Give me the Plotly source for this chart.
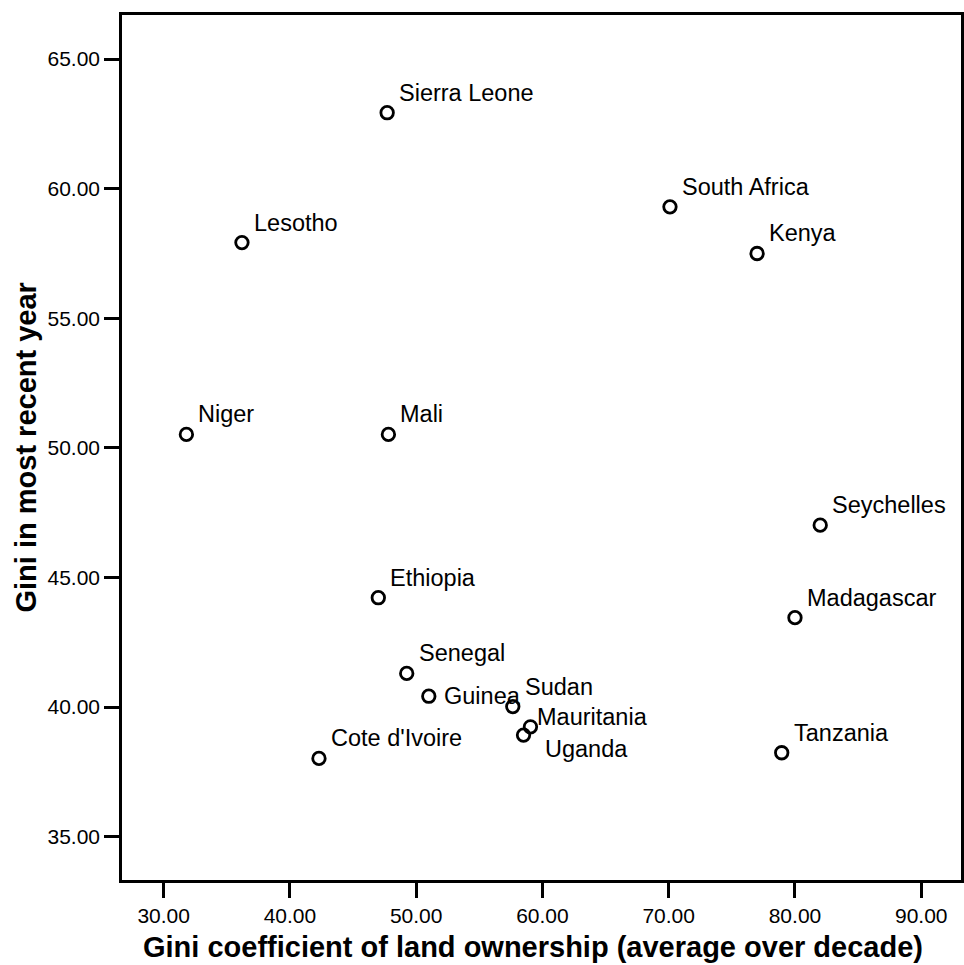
import plotly.graph_objects as go

countries = ["Sierra Leone", "South Africa", "Kenya", "Lesotho", "Niger", "Mali",
             "Seychelles", "Madagascar", "Ethiopia", "Senegal", "Guinea", "Sudan",
             "Mauritania", "Uganda", "Cote d'Ivoire", "Tanzania"]
land_gini = [47.7, 70.1, 77.0, 36.2, 31.8, 47.8,
             82.0, 80.0, 47.0, 49.25, 51.0, 57.65,
             59.05, 58.5, 42.3, 78.95]
income_gini = [62.93, 59.30, 57.50, 57.92, 50.52, 50.52,
               47.02, 43.45, 44.22, 41.30, 40.42, 40.02,
               39.24, 38.92, 38.02, 38.24]

x_ticks = [30, 40, 50, 60, 70, 80, 90]
y_ticks = [35, 40, 45, 50, 55, 60, 65]

# label placement offsets (pixels): default upper-right of marker
default_offset = (10, 20)
label_offsets = {"Guinea": (13, 0), "Mauritania": (5, 10), "Uganda": (19, -14)}

FONT = "Liberation Sans, Arial, sans-serif"

fig = go.Figure()
fig.add_trace(go.Scatter(
    x=land_gini, y=income_gini, mode="markers",
    marker=dict(symbol="circle-open", size=12.5, color="black",
                line=dict(width=2.8, color="black")),
    hoverinfo="skip", showlegend=False,
))

for name, xv, yv in zip(countries, land_gini, income_gini):
    dx, dy = label_offsets.get(name, default_offset)
    fig.add_annotation(x=xv, y=yv, xref="x", yref="y", text=name,
                       showarrow=False, xanchor="left", yanchor="middle",
                       xshift=dx, yshift=dy,
                       font=dict(family=FONT, size=23.5, color="black"))

fig.add_annotation(text="<b>Gini coefficient of land ownership (average over decade)</b>",
                   xref="paper", yref="paper", x=0.49, y=0, yshift=-67,
                   showarrow=False, xanchor="center", yanchor="middle",
                   font=dict(family=FONT, size=29, color="black"))
fig.add_annotation(text="<b>Gini in most recent year</b>",
                   xref="paper", yref="paper", x=0, y=0.5, xshift=-97,
                   showarrow=False, xanchor="center", yanchor="middle", textangle=-90,
                   font=dict(family=FONT, size=29, color="black"))

axis_common = dict(showline=True, linecolor="black", linewidth=2.5, mirror=True,
                   ticks="outside", ticklen=15, tickwidth=2.5, tickcolor="black",
                   showgrid=False, zeroline=False,
                   tickfont=dict(family=FONT, size=21, color="black"))

fig.update_xaxes(range=[26.7, 93.15], tickvals=x_ticks,
                 ticktext=[f"{v:.2f}" for v in x_ticks], **axis_common)
fig.update_yaxes(range=[33.33, 66.7], tickvals=y_ticks,
                 ticktext=[f"{v:.2f}" for v in y_ticks], **axis_common)

fig.update_layout(width=964, height=965,
                  margin=dict(l=122, r=0, t=15, b=85),
                  plot_bgcolor="white", paper_bgcolor="white",
                  font=dict(family=FONT, color="black"))

fig.write_html("out.html")
